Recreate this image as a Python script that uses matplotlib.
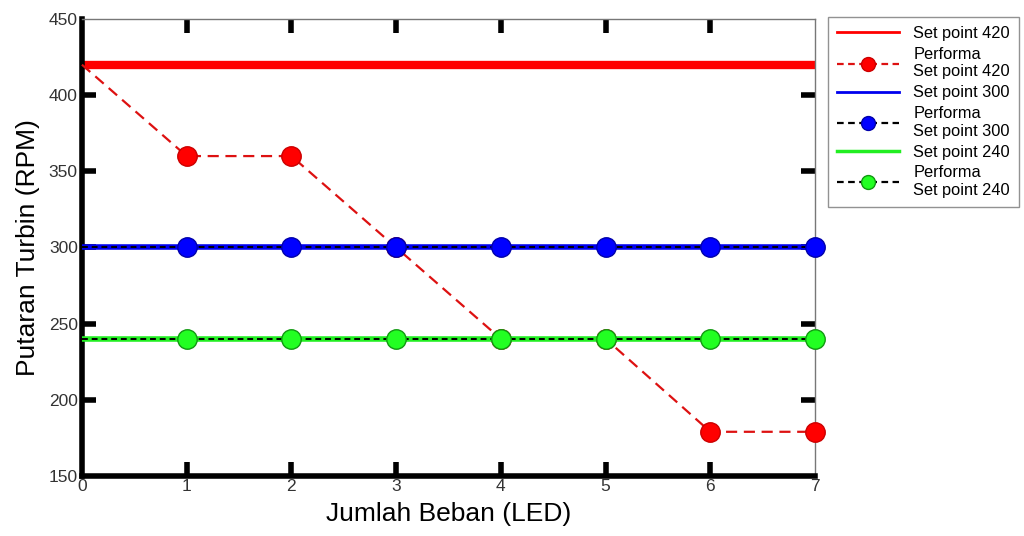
import matplotlib
matplotlib.use("Agg")
import matplotlib.pyplot as plt
from matplotlib.lines import Line2D

plt.rcParams['font.family'] = ['Liberation Sans', 'DejaVu Sans']

beban = [0, 1, 2, 3, 4, 5, 6, 7]
sp420 = [420, 420, 420, 420, 420, 420, 420, 420]
perf420 = [420, 360, 360, 300, 240, 240, 179, 179]
sp300 = [300, 300, 300, 300, 300, 300, 300, 300]
perf300 = [300, 300, 300, 300, 300, 300, 300, 300]
sp240 = [240, 240, 240, 240, 240, 240, 240, 240]
perf240 = [240, 240, 240, 240, 240, 240, 240, 240]
xticks = [0, 1, 2, 3, 4, 5, 6, 7]
yticks = [150, 200, 250, 300, 350, 400, 450]

fig = plt.figure(figsize=(10.24, 5.36), dpi=100)
ax = fig.add_axes([0.080, 0.112, 0.716, 0.8526])

mk = list(range(1, 8))
ax.plot(beban, sp420, color='#ff0000', lw=6, solid_capstyle='butt', zorder=2)
ax.plot(beban, perf420, color='#dd1111', lw=1.6, ls=(0, (5, 3)), marker='o', ms=14,
        mfc='#ff0000', mec='#cc0000', markevery=mk, zorder=3, clip_on=False)
ax.plot(beban, sp300, color='#0000ee', lw=4, solid_capstyle='butt', zorder=4)
ax.plot(beban, perf300, color='black', lw=1.4, ls=(0, (3, 2)), marker='o', ms=14,
        mfc='#0000ff', mec='#0000aa', markevery=mk, zorder=5, clip_on=False)
ax.plot(beban, sp240, color='#22ee22', lw=4, solid_capstyle='butt', zorder=6)
ax.plot(beban, perf240, color='black', lw=1.4, ls=(0, (3, 2)), marker='o', ms=14,
        mfc='#22ff22', mec='#119911', markevery=mk, zorder=7, clip_on=False)

ax.set_xlim(0, 7)
ax.set_ylim(150, 450)
ax.set_xticks(xticks)
ax.set_yticks(yticks)
ax.tick_params(direction='in', length=10, width=4, top=True, right=True,
               labelsize=12.5, pad=3, color='black', labelcolor='#333333')
ax.tick_params(axis='x', pad=2)
for axis in (ax.xaxis, ax.yaxis):
    ticks = axis.get_major_ticks()
    for t in (ticks[0], ticks[-1]):
        t.tick1line.set_visible(False)
        t.tick2line.set_visible(False)
for s in ['left', 'bottom']:
    ax.spines[s].set_linewidth(4)
    ax.spines[s].set_color('black')
for s in ['top', 'right']:
    ax.spines[s].set_linewidth(1)
    ax.spines[s].set_color('#777777')
ax.set_xlabel('Jumlah Beban (LED)', fontsize=19, labelpad=6)
ax.set_ylabel('Putaran Turbin (RPM)', fontsize=19, labelpad=6)

handles = [
    Line2D([], [], color='#ff0000', lw=2),
    Line2D([], [], color='#dd1111', lw=1.6, ls=(0, (3, 2)), marker='o', ms=10, mfc='#ff0000', mec='#cc0000'),
    Line2D([], [], color='#0000ee', lw=2),
    Line2D([], [], color='black', lw=1.6, ls=(0, (3, 2)), marker='o', ms=10, mfc='#0000ff', mec='#0000aa'),
    Line2D([], [], color='#22ee22', lw=2.5),
    Line2D([], [], color='black', lw=1.6, ls=(0, (3, 2)), marker='o', ms=10, mfc='#22ff22', mec='#119911'),
]
labels = ['Set point 420', 'Performa\nSet point 420', 'Set point 300',
          'Performa\nSet point 300', 'Set point 240', 'Performa\nSet point 240']
leg = fig.legend(handles, labels, loc='upper left', bbox_to_anchor=(0.8086, 0.968),
                 fontsize=11.8, frameon=True, fancybox=False, edgecolor='#777777',
                 handlelength=3.8, handletextpad=0.85, labelspacing=0.36,
                 borderpad=0.55, borderaxespad=0)
leg.get_frame().set_linewidth(1)

fig.savefig('out.png', dpi=100)
